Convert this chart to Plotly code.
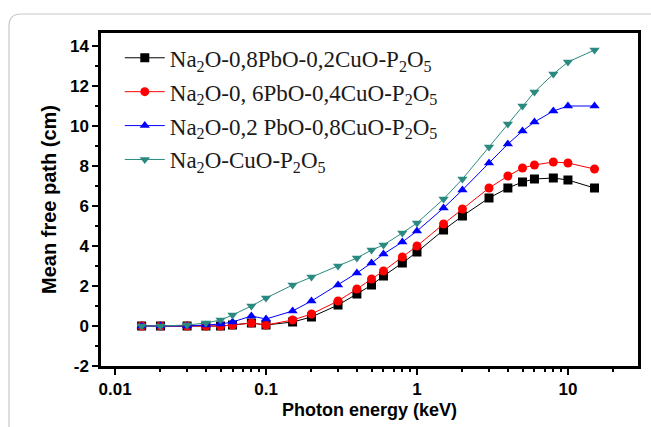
import plotly.graph_objects as go

energy = [0.015, 0.02, 0.03, 0.04, 0.05, 0.06, 0.08, 0.1, 0.15, 0.2, 0.3, 0.4, 0.5,
          0.6, 0.8, 1, 1.5, 2, 3, 4, 5, 6, 8, 10, 15]

s1 = [0, 0, 0, 0, 0, 0.05, 0.15, 0.05, 0.2, 0.45, 1.05, 1.6, 2.05, 2.5, 3.15, 3.7,
      4.8, 5.5, 6.4, 6.9, 7.2, 7.35, 7.4, 7.3, 6.9]
s2 = [0, 0, 0, 0, 0, 0.05, 0.15, 0.05, 0.3, 0.6, 1.25, 1.85, 2.35, 2.75, 3.45, 4.0,
      5.1, 5.85, 6.9, 7.5, 7.9, 8.05, 8.2, 8.15, 7.85]
s3 = [0, 0, 0, 0.05, 0.1, 0.2, 0.5, 0.35, 0.75, 1.25, 2.05, 2.65, 3.15, 3.6, 4.2, 4.75,
      5.9, 6.8, 8.15, 9.1, 9.75, 10.2, 10.75, 11.0, 11.0]
s4 = [0, 0, 0.05, 0.15, 0.3, 0.55, 1.0, 1.4, 2.05, 2.45, 3.0, 3.4, 3.8, 4.05, 4.65, 5.15,
      6.35, 7.35, 8.95, 10.1, 11.0, 11.7, 12.6, 13.2, 13.8]

names = ["Na<sub>2</sub>O-0,8PbO-0,2CuO-P<sub>2</sub>O<sub>5</sub>",
         "Na<sub>2</sub>O-0, 6PbO-0,4CuO-P<sub>2</sub>O<sub>5</sub>",
         "Na<sub>2</sub>O-0,2 PbO-0,8CuO-P<sub>2</sub>O<sub>5</sub>",
         "Na<sub>2</sub>O-CuO-P<sub>2</sub>O<sub>5</sub>"]
series = [s1, s2, s3, s4]
colors = ["#000000", "#ff0000", "#0000ff", "#2a8a80"]
symbols = ["square", "circle", "triangle-up", "triangle-down"]

x_tickvals = [0.01, 0.1, 1, 10]
x_ticktext = ["0.01", "0.1", "1", "10"]
y_tickvals = [-2, 0, 2, 4, 6, 8, 10, 12, 14]
y_ticktext = ["-2", "0", "2", "4", "6", "8", "10", "12", "14"]

fig = go.Figure()
for i, (nm, ys, c, sym) in enumerate(zip(names, series, colors, symbols)):
    fig.add_trace(go.Scatter(
        x=energy, y=ys, name=nm, mode="lines+markers",
        line=dict(color=c, width=1),
        marker=dict(symbol=sym, size=9, color=c),
        legendgroup=str(i),
    ))

W, H = 651, 427
L, R, T, B = 101, 638, 33, 366
pw, ph = R - L, B - T

def px(x):
    return (x - L) / pw

def py(y):
    return (B - y) / ph

# rounded outer frame
x0, y0, x1, y1, r = px(9), py(14), px(670), py(450), 12
rx, ry = r / pw, r / ph
path = (f"M {x0},{y1} L {x0},{y0 - ry} Q {x0},{y0} {x0 + rx},{y0} "
        f"L {x1},{y0}")

fig.update_layout(
    width=W, height=H,
    margin=dict(l=L, r=W - R, t=T, b=H - B, autoexpand=False),
    paper_bgcolor="white", plot_bgcolor="white",
    showlegend=True,
    legend=dict(x=0.035, y=0.99, xanchor="left", yanchor="top",
                font=dict(family="Liberation Serif", size=23, color="#1a1a1a"),
                bgcolor="rgba(0,0,0,0)", tracegroupgap=1, itemwidth=40),
    shapes=[dict(type="path", xref="paper", yref="paper", path=path,
                 line=dict(color="#c8c8c8", width=1.2), layer="below")],
    font=dict(family="Liberation Sans", color="black"),
)

fig.update_xaxes(
    type="log", range=[-2.093, 1.464], automargin=False,
    tickvals=x_tickvals, ticktext=x_ticktext,
    ticks="outside", ticklen=6, tickwidth=2, tickcolor="black",
    minor=dict(ticks="outside", ticklen=3, tickwidth=1.5, tickcolor="black",
               tickvals=[m * d for d in x_tickvals for m in range(2, 10)]),
    showline=True, linewidth=2.5, linecolor="black", mirror=True,
    showgrid=False, zeroline=False,
    tickfont=dict(family="Liberation Sans", size=17, color="black", weight="bold"),
    title=dict(text="<b>Photon energy (keV)</b>",
               font=dict(family="Liberation Sans", size=18, color="black"), standoff=6),
)
fig.update_yaxes(
    range=[-2, 14.65], automargin=False,
    tickvals=y_tickvals, ticktext=y_ticktext,
    ticks="outside", ticklen=6, tickwidth=2, tickcolor="black",
    minor=dict(ticks="outside", ticklen=3, tickwidth=1.5, tickcolor="black", dtick=1),
    showline=True, linewidth=2.5, linecolor="black", mirror=True,
    showgrid=False, zeroline=False,
    tickfont=dict(family="Liberation Sans", size=17, color="black", weight="bold"),
    title=dict(text="<b>Mean free path (cm)</b>",
               font=dict(family="Liberation Sans", size=20, color="black"), standoff=8),
)

fig.write_html("out.html", config={"displayModeBar": False},
               post_script="document.body.style.margin='0';")
